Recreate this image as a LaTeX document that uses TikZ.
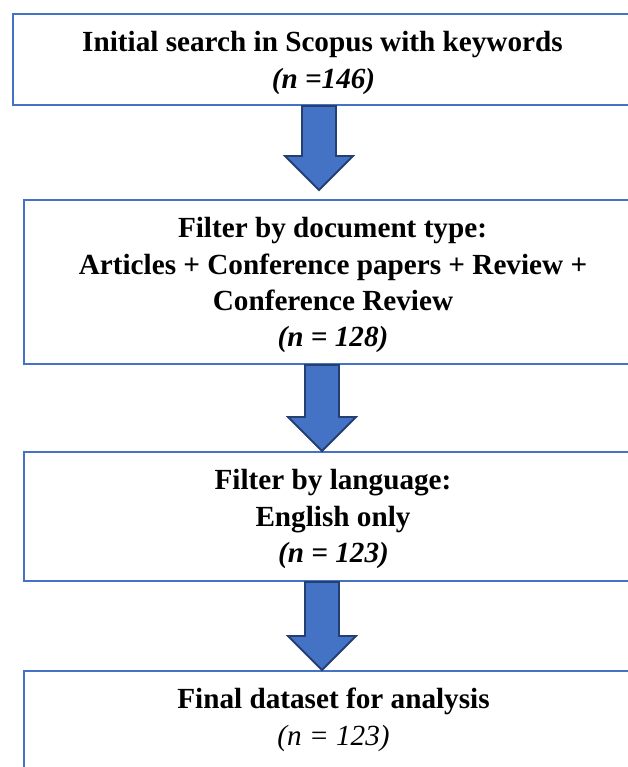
\documentclass[tikz,border=0pt]{standalone}
\usepackage{fontspec}
\setmainfont{Liberation Serif}
\usetikzlibrary{calc}
\definecolor{boxblue}{HTML}{4472C4}
\definecolor{arrowedge}{HTML}{243F72}
% #1 centre coordinate, #2 start anchor, #3 end anchor, #4 gap before end
\newcommand\blockarr[4]{%
  \draw[blockarrow]
    ($(#1 |- #2)+(-17,0)$) -- ($(#1 |- #3)+(-17,{-#4-34})$)
    -- ($(#1 |- #3)+(-34,{-#4-34})$) -- ($(#1 |- #3)+(0,{-#4})$)
    -- ($(#1 |- #3)+(34,{-#4-34})$) -- ($(#1 |- #3)+(17,{-#4-34})$)
    -- ($(#1 |- #2)+(17,0)$) -- cycle;}
\begin{document}
\begin{tikzpicture}[x=1pt,y=-1pt,
  box/.style={draw=boxblue, line width=2pt, inner sep=0pt, anchor=north west},
  txt/.style={anchor=base, inner sep=0pt, font=\fontsize{29.2}{36}\selectfont\bfseries},
  num/.style={anchor=base, inner sep=0pt, font=\fontsize{29.2}{36}\selectfont\bfseries\itshape},
  numplain/.style={anchor=base, inner sep=0pt, font=\fontsize{29.2}{36}\selectfont\itshape},
  blockarrow/.style={fill=boxblue, draw=arrowedge, line width=1.8pt, line join=miter}]
\useasboundingbox (0,0) rectangle (628,767);
\clip (0,0) rectangle (628,767);

% boxes (they run past the right edge, and the last one past the bottom)
\node[box, minimum width=625pt, minimum height=91pt]  (b1) at (12,13) {};
\node[box, minimum width=615pt, minimum height=164pt] (b2) at (23,199) {};
\node[box, minimum width=615pt, minimum height=129pt] (b3) at (23,451) {};
\node[box, minimum width=615pt, minimum height=110pt] (b4) at (23,670) {};

% texts
\node[txt] (t1a) at (322.5,52) {Initial search in Scopus with keywords};
\node[num] (t1b) at (323.5,88.5) {(n =146)};

\node[txt] (t2a) at (332.5,237.5) {Filter by document type:};
\node[txt] (t2b) at (333,274) {Articles + Conference papers + Review +};
\node[txt] (t2c) at (333,310) {Conference Review};
\node[num] (t2d) at (333,346.5) {(n = 128)};

\node[txt] (t3a) at (333,489.3) {Filter by language:};
\node[txt] (t3b) at (333,526) {English only};
\node[num] (t3c) at (333.5,562) {(n = 123)};

\node[txt] (t4a) at (333.5,708.5) {Final dataset for analysis};
\node[numplain] (t4b) at (333.5,745) {(n = 123)};

% block arrows
\coordinate (x1) at (319,0);
\coordinate (x2) at (322,0);
\blockarr{x1}{b1.south}{b2.north}{9}
\blockarr{x2}{b2.south}{b3.north}{0}
\blockarr{x2}{b3.south}{b4.north}{0}
\end{tikzpicture}
\end{document}
